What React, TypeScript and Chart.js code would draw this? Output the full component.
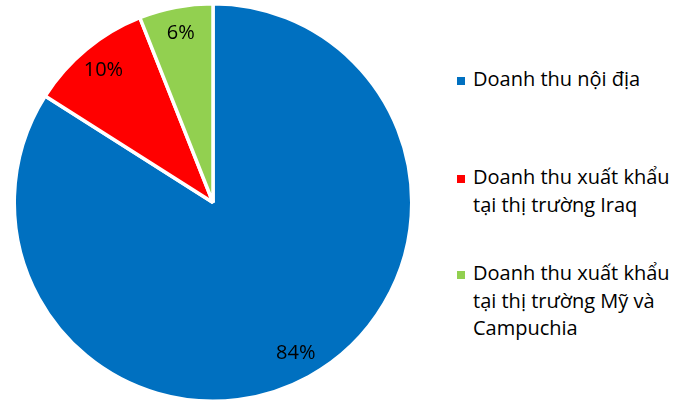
import React, { useEffect, useRef } from "react";
import { Chart, registerables } from "chart.js";

Chart.register(...registerables);

const categories: string[][] = [
  ["Doanh thu nội địa"],
  ["Doanh thu xuất khẩu", "tại thị trường Iraq"],
  ["Doanh thu xuất khẩu", "tại thị trường Mỹ và", "Campuchia"],
];
const values: number[] = [84, 10, 6];
const valueLabels: string[] = ["84%", "10%", "6%"];
const colors: string[] = ["#0070C0", "#FF0000", "#92D050"];
const legendTops: number[] = [65, 163, 259];

const FONT = "'Open Sans', sans-serif";

const labelPlugin = {
  id: "sliceLabels",
  afterDatasetsDraw(chart: any) {
    const ctx = chart.ctx;
    const meta = chart.getDatasetMeta(0);
    ctx.save();
    ctx.font = `20px ${FONT}`;
    ctx.fillStyle = "#000";
    ctx.textAlign = "center";
    ctx.textBaseline = "middle";
    meta.data.forEach((arc: any, i: number) => {
      const { x, y, startAngle, endAngle, outerRadius } = arc.getProps(
        ["x", "y", "startAngle", "endAngle", "outerRadius"],
        true
      );
      const mid = (startAngle + endAngle) / 2;
      const r = outerRadius * 0.865;
      ctx.fillText(valueLabels[i], x + Math.cos(mid) * r, y + Math.sin(mid) * r);
    });
    ctx.restore();
  },
};

export default function App() {
  const ref = useRef<HTMLCanvasElement | null>(null);
  useEffect(() => {
    if (!ref.current) return;
    const chart = new Chart(ref.current, {
      type: "pie",
      data: {
        labels: categories.map((c) => c.join(" ")),
        datasets: [
          {
            data: values,
            backgroundColor: colors,
            borderColor: "#ffffff",
            borderWidth: 3.5,
          },
        ],
      },
      options: {
        animation: false,
        responsive: false,
        layout: { padding: { top: 2, bottom: 2, left: 0, right: 0 } },
        plugins: {
          legend: { display: false },
          tooltip: { enabled: false },
        },
      },
      plugins: [labelPlugin],
    });
    return () => chart.destroy();
  }, []);

  return (
    <div
      style={{
        position: "fixed",
        left: 0,
        top: 0,
        width: 686,
        height: 405,
        background: "#fff",
        fontFamily: FONT,
      }}
    >
      <canvas
        ref={ref}
        width={426}
        height={405}
        style={{ position: "absolute", left: 0, top: 0, width: 426, height: 405 }}
      />
      {categories.map((lines, i) => (
        <div
          key={i}
          style={{
            position: "absolute",
            left: 473,
            top: legendTops[i],
            fontSize: 20,
            lineHeight: "27.5px",
            color: "#000",
            whiteSpace: "nowrap",
          }}
        >
          <div
            style={{
              position: "absolute",
              left: -16,
              top: 12,
              width: 8,
              height: 8,
              background: colors[i],
            }}
          />
          {lines.map((l, j) => (
            <div key={j}>{l}</div>
          ))}
        </div>
      ))}
    </div>
  );
}
